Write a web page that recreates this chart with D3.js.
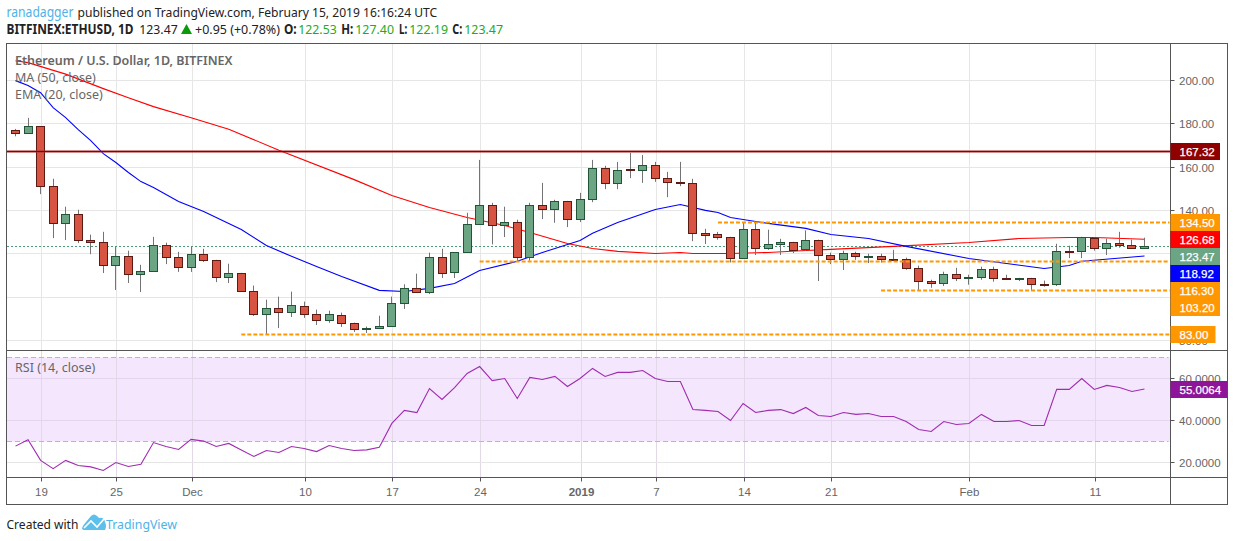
<!DOCTYPE html>
<html><head><meta charset="utf-8">
<script src="https://cdnjs.cloudflare.com/ajax/libs/d3/7.8.5/d3.min.js"></script>
<style>
html,body{margin:0;padding:0;background:#fff}
svg{display:block}
text{font-family:"Liberation Sans",Arial,sans-serif}
</style></head><body>
<svg id="c" width="1234" height="541"></svg>
<script>
const opens=[176.7,175.6,178.5,150.9,133.8,138.0,126.0,125.1,114.5,118.6,110.3,111.7,123.7,118.2,113.5,119.5,116.8,108.9,110.8,102.5,91.9,94.7,92.8,95.6,91.9,89.1,91.4,87.7,85.0,85.4,86.4,97.0,103.9,102.0,118.2,111.2,120.5,133.4,142.1,132.9,134.3,118.2,142.1,140.3,144.0,135.7,144.9,159.2,152.3,158.7,158.2,160.6,154.6,152.7,152.3,129.2,128.8,127.4,117.7,131.1,122.3,124.1,125.1,121.8,126.0,119.1,117.2,120.0,118.5,118.6,117.4,117.2,113.1,107.1,106.2,110.3,108.5,108.9,112.6,108.5,107.9,108.5,105.7,105.6,120.9,120.9,126.9,122.3,124.6,123.7,122.53];
const highs=[177.6,182.7,178.5,154.6,141.7,140.3,128.8,130.1,123.2,121.4,114.9,127.8,125.1,120.9,123.2,122.3,117.2,115.4,111.2,105.3,98.8,100.2,102.5,97.9,94.2,93.7,92.8,88.2,86.4,91.4,100.2,105.9,110.8,120.5,122.3,120.5,138.9,163.3,143.5,141.7,135.7,143.5,152.7,144.9,144.4,148.1,163.3,160.6,162.4,166.5,165.6,162.4,157.8,162.4,154.6,131.5,130.1,127.8,134.3,134.3,131.1,126.9,125.5,130.8,126.5,120.5,121.4,120.9,120.0,120.0,121.8,118.2,114.5,108.0,111.7,113.5,110.3,114.0,114.0,110.3,108.9,108.9,107.6,124.6,123.7,127.8,127.4,126.9,130.1,126.5,127.40];
const lows=[174.2,175.6,147.5,127.2,126.3,124.9,119.8,111.1,103.3,106.5,102.3,111.7,115.2,111.6,111.6,116.2,106.9,106.5,102.5,91.3,82.8,85.7,90.8,90.4,87.1,88.1,86.2,83.9,83.4,85.4,86.4,94.5,102.0,101.4,108.8,108.8,120.5,133.4,124.3,127.7,116.6,116.8,136.0,134.3,132.3,134.6,143.8,149.8,149.8,154.9,152.7,153.2,146.1,151.2,125.8,124.5,126.5,116.0,117.7,119.4,121.8,119.4,120.3,121.4,107.4,115.2,112.5,117.2,115.7,115.9,116.8,112.6,103.1,104.3,105.1,107.4,105.7,108.0,107.1,108.0,107.4,102.8,104.8,105.1,118.0,118.0,121.4,119.4,122.8,122.3,122.19];
const closes=[175.6,178.5,150.9,133.8,138.0,126.0,125.1,114.5,118.6,110.3,111.7,123.7,118.2,113.5,119.5,116.8,108.9,110.8,102.5,91.9,94.7,92.8,96.0,91.9,89.1,91.9,87.7,85.0,85.4,86.4,97.0,103.9,102.0,118.2,110.8,120.5,133.4,142.1,132.9,134.3,118.2,142.1,140.3,144.0,135.7,144.9,159.2,152.3,158.2,158.2,160.6,154.6,152.7,152.3,129.2,128.3,127.4,117.7,131.1,122.3,124.1,125.1,121.4,126.0,119.1,117.2,120.0,118.6,118.6,117.2,117.2,113.1,107.1,106.2,110.3,108.5,108.9,112.6,108.5,108.3,108.5,105.7,105.6,120.9,120.8,127.4,122.3,124.6,123.7,122.3,123.47];
const maDays=[0,1,4,7,9,11,14,17,21,27,30,33,36,39,41,44,46,48,51,53,54,57,60,63,65,70,76,80,84,86,90];
const maValues=[209.1,208.2,202.9,196.2,192,187.9,182.8,177.5,167.8,154.2,146.9,141.3,136.7,133,129.8,124.7,122.4,121.1,120.1,120.6,120.1,120.1,120.6,121.5,122,123.4,125.2,127,127.5,127.5,126.68];
const emaDays=[0,1,2,3,4,5,6,7,8,9,10,11,13,15,18,20,22,24,26,29,31,33,35,37,40,42,45,46,48,51,53,55,56,57,58,60,63,65,68,71,76,79,82,84,85,90];
const emaValues=[199.9,197.6,194.3,187.4,182.8,177.3,172.2,166.2,162.1,157.5,153.3,150.6,144.1,139.5,131.2,123.8,118.8,114.1,109.5,103.1,102.6,104,106.3,112.3,116.5,120.6,126.1,129.4,134.4,140.4,142.7,140,139,136.7,135.8,134,131.7,128.9,127,123.4,117.8,115.5,113.2,114.6,116.5,118.92];
const rsiValues=[27.8,30.8,21,17.1,21,18.6,17.9,16.2,20,18.1,19.2,29.5,27.6,26.2,31,30.2,27.6,29.1,26,22.9,25.7,24.8,27.6,26.7,25.2,28.1,26.7,25.7,26,27.2,38.6,44.8,43.8,55.2,50,55.7,62.4,65.7,59,60,50.5,60.5,59.5,61,56.2,60,64.8,61,62.9,62.9,63.8,60,58.6,58.6,45.2,44.8,44.3,40,48.1,43.8,44.8,45.2,43.3,46.2,42.4,41.9,43.8,42.9,43.3,41.9,41.9,39.5,35.7,34.8,39.5,38.1,38.6,42.9,39.5,39.5,40,37.6,37.6,54.8,54.8,60,54.8,56.7,55.7,53.8,55.0064];
const timeTickDays=[2,8,14,23,30,37,45,51,58,65,76,86];
const timeTickLabels=["19","25","Dec","10","17","24","2019","7","14","21","Feb","11"];
const priceTicks=[80,100,120,140,160,180,200];
const hiddenPriceLabels=[100,120];
const rsiTicks=[20,40,60];
const resistance=167.32;
const levelValues=[134.50,116.30,103.20,83.00];
const levelStartDays=[56,37,69,18];
const priceTags=[
 {v:134.50,t:"134.50",c:"#ff9800"},{v:126.68,t:"126.68",c:"#ff0000"},{v:123.47,t:"123.47",c:"#6ba583"},
 {v:118.92,t:"118.92",c:"#0000ff"},{v:116.30,t:"116.30",c:"#ff9800"},{v:103.20,t:"103.20",c:"#ff9800"},{v:83.00,t:"83.00",c:"#ff9800",short:true}];

const L=6.5,R=1227.5,T=43.5,B=504.5,AX=1170.5,P1=350.5,P2=477.5;
const svg=d3.select("#c");
const x=d3.scaleLinear().domain([0,90]).range([15.5,1144.5]);
const y=d3.scaleLinear().domain([80,200]).range([340.4,80.4]);
const ry=d3.scaleLinear().domain([20,60]).range([462.5,378.5]);
const px=v=>Math.floor(v)+.5;
const rd=v=>Math.round(v-.3)+.5;
const gridC="#e6e6e6",frame="#555";
const HF='"Noto Sans",sans-serif';

// RSI band
svg.append("rect").attr("x",7).attr("width",AX-7).attr("y",ry(70)).attr("height",ry(30)-ry(70)).attr("fill","#f4e6fd");
// grids
const grid=svg.append("g").attr("stroke",gridC).attr("stroke-width",1);
timeTickDays.forEach(d=>{
  [[T,P1],[P1,P2]].forEach(([a,b])=>grid.append("line").attr("x1",px(x(d))+1).attr("x2",px(x(d))+1).attr("y1",a).attr("y2",b)
    .attr("stroke",a==T?gridC:"#e2d8e8"));
});
priceTicks.forEach(v=>grid.append("line").attr("x1",L).attr("x2",AX).attr("y1",px(y(v))).attr("y2",px(y(v))));
rsiTicks.forEach(v=>grid.append("line").attr("x1",L).attr("x2",AX).attr("y1",ry(v)).attr("y2",ry(v)).attr("stroke",v==20?gridC:"#e3d5ee"));
[70,30].forEach(v=>svg.append("line").attr("x1",7).attr("x2",AX-2).attr("y1",ry(v)).attr("y2",ry(v)).attr("stroke","#bfb2c8").attr("stroke-dasharray","5 3"));

// last price line
svg.append("line").attr("x1",7).attr("x2",AX).attr("y1",px(y(123.47))).attr("y2",px(y(123.47))).attr("stroke","#4f9a76").attr("stroke-dasharray","2 2");

// MA / EMA under candles
const ln=d3.line().x(d=>x(d[0])).y(d=>y(d[1]));
svg.append("path").attr("d",ln(maDays.map((d,i)=>[d,maValues[i]]))).attr("fill","none").attr("stroke","#ff0000").attr("stroke-width",1.1);
svg.append("path").attr("d",ln(emaDays.map((d,i)=>[d,emaValues[i]]))).attr("fill","none").attr("stroke","#0000ff").attr("stroke-width",1.1);

// candles
const cg=svg.append("g");
closes.forEach((c,i)=>{
  const o=opens[i],up=c>=o,cx=px(x(i));
  cg.append("line").attr("x1",cx).attr("x2",cx).attr("y1",y(highs[i])).attr("y2",y(lows[i])).attr("stroke","#737375");
  const t=px(y(Math.max(o,c))),b=px(y(Math.min(o,c)));
  cg.append("rect").attr("x",cx-4).attr("width",8).attr("y",t).attr("height",Math.max(b-t,1))
    .attr("fill",up?"#6ba583":"#d75442").attr("stroke",up?"#225437":"#5b1a13").attr("stroke-width",1);
});

// horizontal drawings
levelValues.forEach((v,i)=>{
  svg.append("line").attr("x1",x(levelStartDays[i])).attr("x2",AX-1).attr("y1",rd(y(v))).attr("y2",rd(y(v)))
    .attr("stroke","#ff9800").attr("stroke-width",2).attr("stroke-dasharray","4 2");
});
svg.append("line").attr("x1",7).attr("x2",AX).attr("y1",px(y(resistance))).attr("y2",px(y(resistance))).attr("stroke","#b03030").attr("stroke-opacity",.55).attr("stroke-width",3);
svg.append("line").attr("x1",7).attr("x2",AX).attr("y1",px(y(resistance))).attr("y2",px(y(resistance))).attr("stroke","#8b0000").attr("stroke-width",1);

// RSI line
svg.append("path").attr("d",d3.line().x((d,i)=>x(i)).y(d=>ry(d))(rsiValues)).attr("fill","none").attr("stroke","#a02cb0").attr("stroke-width",1.1);

// axes
function styleAxis(g){g.select(".domain").remove();g.selectAll("line").attr("stroke",frame);g.selectAll("text").attr("fill","#666").style("font-size","11.5px").style("font-family",'"Liberation Sans",Arial,sans-serif');}
const ga=svg.append("g").attr("transform",`translate(${AX},0)`).call(d3.axisRight(y).tickValues(priceTicks).tickSize(4).tickPadding(4.5).tickFormat(d=>hiddenPriceLabels.includes(d)?"":d3.format(".2f")(d)).offset(0));
ga.selectAll(".tick").attr("transform",d=>`translate(0,${px(y(d))})`);styleAxis(ga);
ga.selectAll("text").attr("dy",".42em");
const gr=svg.append("g").attr("transform",`translate(${AX},0)`).call(d3.axisRight(ry).tickValues(rsiTicks).tickSize(4).tickPadding(4.5).tickFormat(d3.format(".4f")).offset(0));styleAxis(gr);
gr.selectAll("text").attr("dy",".42em");
const gt=svg.append("g").attr("transform",`translate(0,${P2})`).call(d3.axisBottom(x).tickValues(timeTickDays).tickSize(4).tickPadding(5).tickFormat((d,i)=>timeTickLabels[i]).offset(0));
gt.selectAll(".tick").attr("transform",d=>`translate(${px(x(d))+1},0)`);styleAxis(gt);
gt.selectAll("text").attr("dy","0.85em").style("font-weight",d=>timeTickLabels[timeTickDays.indexOf(d)]=="2019"?"bold":"normal");

// frame
const fr=svg.append("g").attr("stroke",frame).attr("fill","none");
fr.append("rect").attr("x",L).attr("y",T).attr("width",R-L).attr("height",B-T);
fr.append("line").attr("x1",L).attr("x2",R).attr("y1",P1).attr("y2",P1);
fr.append("line").attr("x1",L).attr("x2",R).attr("y1",P2).attr("y2",P2);
fr.append("line").attr("x1",AX).attr("x2",AX).attr("y1",T).attr("y2",B);

// axis tags
function tag(cy,txt,col,w){
  svg.append("rect").attr("x",AX).attr("y",cy-8.5).attr("width",w).attr("height",17).attr("fill",col);
  svg.append("text").attr("x",AX+9).attr("y",cy).attr("dy",".36em").attr("fill","#fff").style("font-size","11.5px").attr("stroke","#fff").attr("stroke-width",.25).text(txt);
}
tag(px(y(resistance)),"167.32","#8f0000",49.5);
let prev=-1e9;
priceTags.forEach(p=>{let cy=rd(y(p.v));if(cy<prev+17)cy=prev+17;prev=cy;tag(cy,p.t,p.c,p.short?45:49.5);});
tag(ry(rsiValues[90])+.5,"55.0064","#8e1599",57);

// legend texts
const lg=svg.append("g").attr("fill","#666").style("font-size","12.5px");
lg.append("text").attr("x",15).attr("y",65).style("font-family",HF).style("font-weight","600").text("Ethereum / U.S. Dollar, 1D, BITFINEX");
lg.append("text").attr("x",15).attr("y",82).style("font-family",HF).text("MA (50, close)");
lg.append("text").attr("x",15).attr("y",99).style("font-family",HF).text("EMA (20, close)");
lg.append("text").attr("x",15).attr("y",372).style("font-family",HF).text("RSI (14, close)");

// header: each run is squeezed horizontally to the measured width
function hd(xp,yp,t,col,w,bold){
  const s=svg.append("text").attr("fill",col).style("font-family",HF).style("font-size","13.5px").style("font-weight",bold?"700":"400").text(t);
  const len=s.node().getComputedTextLength();
  s.attr("transform",`translate(${xp},${yp}) scale(${w/len},1)`);
}
const G="#22ab22",K="#222";
hd(6.5,17,"ranadagger","#4db2e8",67);
hd(77.5,17,"published on TradingView.com, February 15, 2019 16:16:24 UTC",K,360);
hd(6.5,34,"BITFINEX:ETHUSD, 1D",K,127,true);
hd(139.3,34,"123.47",K,38.4);
svg.append("path").attr("d",d3.line()([[181,34],[192,34],[186.5,24]])).attr("fill","#0a9a0a");
hd(195,34,"+0.95 (+0.78%)",K,85);
hd(284,34,"O:",K,12.7,true);hd(298.3,34,"122.53",G,38.4);
hd(341.3,34,"H:",K,12,true);hd(355.3,34,"127.40",G,38.7);
hd(399,34,"L:",K,8.3,true);hd(409.3,34,"122.19",G,38.7);
hd(452.3,34,"C:",K,10,true);hd(464.3,34,"123.47",G,38.7);

// footer
hd(6.5,529,"Created with",K,72);
hd(106,529,"TradingView","#4db2e8",71);
svg.append("path").attr("d","M82 528 Q83 525 86 522 L91 516 Q94 513 97 516 L99 518 Q104 517 105 522 Q107 526 105 530 L85 530 Q82 530 82 528Z").attr("fill","#5cc0ea");
svg.append("path").attr("d",d3.line()([[84,528],[91,521],[97,527],[104,519]])).attr("fill","none").attr("stroke","#fff").attr("stroke-width",1.6);
</script>
</body></html>
